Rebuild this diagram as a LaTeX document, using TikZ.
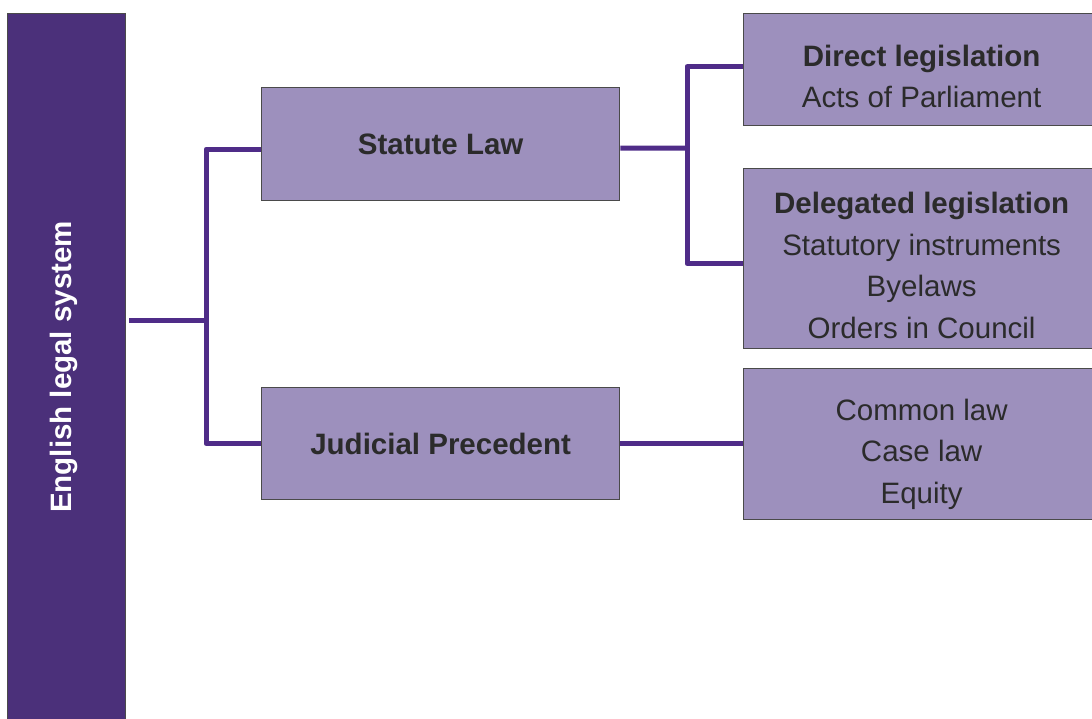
\documentclass[tikz,border=0pt]{standalone}
\usepackage{fontspec}
\setmainfont{Liberation Sans}
\definecolor{barpurple}{HTML}{4B307A}
\definecolor{boxfill}{HTML}{9D90BD}
\definecolor{linepurple}{HTML}{4F2C88}
\definecolor{txt}{HTML}{2B2B2B}
\definecolor{edge}{HTML}{4A4A4A}
\begin{document}
\begin{tikzpicture}[x=1pt,y=-1pt,
  box/.style={draw=edge,line width=1.3pt,fill=boxfill,anchor=north west,inner sep=0pt,minimum width=356pt},
  lbl/.style={text=txt,font=\fontsize{29.5}{41.5}\selectfont,align=center},
  conn/.style={draw=linepurple,line width=5pt,line join=round}]
\useasboundingbox (0,0) rectangle (1092,718);
\begin{scope}
\clip (0,0) rectangle (1092,718);
% left bar
\node[box,fill=barpurple,minimum width=118pt,minimum height=712pt] (bar) at (7,13) {};
\node[rotate=90,text=white,font=\fontsize{29.5}{35}\selectfont\bfseries] (bartxt) at (64,367) {English legal system};
% middle boxes
\node[box,minimum width=358pt,minimum height=113pt] (statute) at (261,87) {};
\node[lbl,font=\fontsize{29.5}{41.5}\selectfont\bfseries] (statutetxt) at (statute.center) {Statute Law};
\node[box,minimum width=358pt,minimum height=112pt] (judicial) at (261,387) {};
\node[lbl,font=\fontsize{29.5}{41.5}\selectfont\bfseries] (judicialtxt) at (judicial.center) {Judicial Precedent};
% right boxes
\node[box,minimum height=112pt] (direct) at (743,13) {};
\node[lbl] (directtxt) at ([yshift=-7pt]direct.center) {\textbf{Direct legislation}\\Acts of Parliament};
\node[box,minimum height=180pt] (delegated) at (743,168) {};
\node[lbl] (delegatedtxt) at ([yshift=-7pt]delegated.center) {\textbf{Delegated legislation}\\Statutory instruments\\Byelaws\\Orders in Council};
\node[box,minimum height=151pt] (common) at (743,368) {};
\node[lbl] (commontxt) at ([yshift=-10pt]common.center) {Common law\\Case law\\Equity};
\end{scope}
% connectors
\coordinate (lx) at (206,320);
\coordinate (sx) at (687,148);
\draw[conn] ([xshift=3pt]bar.east |- lx) -- (lx);
\draw[conn] ([yshift=-5pt]statute.west) -| (lx) |- (judicial.west);
\draw[conn] ([yshift=-4pt]statute.east) -- (sx);
\draw[conn] ([yshift=3pt]direct.west) -| (sx) |- ([yshift=-5pt]delegated.west);
\draw[conn] (judicial.east) -- (judicial.east -| common.west);
\end{tikzpicture}
\end{document}
